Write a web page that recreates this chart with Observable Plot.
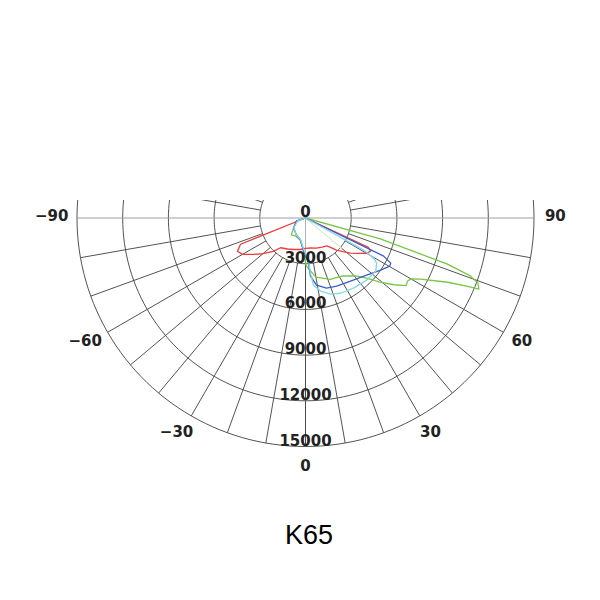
<!DOCTYPE html>
<html><head><meta charset="utf-8">
<script src="https://cdn.jsdelivr.net/npm/d3@7"></script>
<script src="https://cdn.jsdelivr.net/npm/@observablehq/plot@0.6"></script>
<style>
body{margin:0;background:#fff;}
#wrap{position:relative;width:600px;height:600px;}
#title{position:absolute;left:209px;width:200px;top:521px;text-align:center;font-family:"Liberation Sans",Arial,sans-serif;font-size:27px;line-height:28px;color:#000;}
</style></head><body>
<div id="wrap"><div id="chart"></div><div id="title">K65</div></div>
<script>
// ring (intensity) labels, cd
const ringValues = [0, 3000, 6000, 9000, 12000, 15000];
// angle labels, degrees
const angleTicks = [-90, -60, -30, 0, 30, 60, 90];
const angleText = ["\u221290", "\u221260", "\u221230", "0", "30", "60", "90"];

// curves: gamma (deg) and luminous intensity (cd)
const redGamma = [-90, -72, -68, -64, -60, -55, -50, -44, -40, -30, -20, -10, 0, 10, 20, 30, 37, 40, 44, 48, 52, 56, 60, 63, 65, 70, 90];
const redCd    = [0, 0, 4600, 4970, 4780, 4160, 3650, 3050, 2550, 2350, 2200, 2100, 2000, 2000, 2100, 2200, 2300, 2500, 2930, 3300, 3750, 4150, 4630, 4800, 4550, 0, 0];

const greenGamma = [-90, -72, -50, -40, -30, -13, -4, 1, 10, 22, 32, 41, 45.5, 49, 53, 56, 58.3, 60, 62, 65.7, 67.3, 67.7, 69.3, 70.6, 72, 74.4, 80, 90];
const greenCd    = [0, 620, 1030, 1450, 1350, 1500, 2100, 3160, 3940, 4340, 4490, 5040, 5630, 6390, 7280, 7950, 7880, 7990, 8560, 10250, 11770, 12300, 12100, 11500, 9800, 5100, 0, 0];

const blueGamma = [-90, -72, -50, -28, -13, -4, 3.8, 4.9, 9.3, 16.7, 24.5, 35.5, 47, 55.3, 60.3, 62.1, 64, 70, 90];
const blueCd    = [0, 620, 1030, 1265, 1480, 2100, 2970, 3830, 4470, 4810, 4920, 5090, 5490, 6000, 6370, 6330, 5710, 0, 0];

const cyanGamma = [-90, -70, -50, -30, -13, -4, 4, 5.2, 6.8, 11.6, 18.2, 25, 34.4, 44.5, 52.9, 57.6, 59.5, 61.1, 66, 90];
const cyanCd    = [0, 550, 1000, 1250, 1450, 2000, 2770, 3630, 4440, 4900, 5260, 5450, 5580, 5720, 5780, 5530, 5190, 4360, 0, 0];

const paleGamma = [40, 50, 55];
const paleCd    = [0, 3100, 0];

const rad = Math.PI / 180;
const cx = 305, cy = 217.5, rOuter = 228.5, rMax = 15000;
const k = rOuter / rMax;
const W = 600, H = 500, topPx = 200;

const X = (g, I) => I * Math.sin(g * rad);
const Y = (g, I) => I * Math.cos(g * rad);
const series = (gs, vs) => gs.map((g, i) => ({g, I: vs[i]}));

// grid
const ringPts = [];
for (const R of ringValues.slice(1)) for (const g of d3.range(-180, 181, 2)) ringPts.push({R, g});
const spokeAngles = d3.range(-170, 181, 10).filter(a => Math.abs(a) !== 90);
const labelR = 16400;
const tickIdx = angleTicks.map((a, i) => i);

const curveMark = (gs, vs, color, w) => Plot.line(series(gs, vs), {
  x: d => X(d.g, d.I), y: d => Y(d.g, d.I), stroke: color, strokeWidth: w, curve: "linear"
});
const labelStyle = {fontSize: 15, fontWeight: "bold", fill: "#222"};

const chart = Plot.plot({
  width: W, height: H,
  marginTop: topPx, marginBottom: 0, marginLeft: 0, marginRight: 0,
  x: {domain: [-cx / k, (W - cx) / k], axis: null},
  y: {domain: [(topPx - cy) / k, (H - cy) / k], reverse: true, axis: null},
  style: {fontFamily: "DejaVu Sans", background: "white"},
  marks: [
    Plot.line(ringPts, {x: d => X(d.g, d.R), y: d => Y(d.g, d.R), z: "R", stroke: "#404040", strokeWidth: 0.9, clip: "frame"}),
    Plot.ruleX([0], {y1: 0, y2: rMax, stroke: "#b0b0b0", strokeWidth: 1}),
    Plot.link(spokeAngles, {x1: a => X(a, 3000), y1: a => Y(a, 3000), x2: a => X(a, rMax), y2: a => Y(a, rMax), stroke: "#404040", strokeWidth: 0.9, clip: "frame"}),
    Plot.ruleY([0], {x1: -rMax, x2: rMax, stroke: "#a0a0a0", strokeWidth: 1}),
    curveMark(paleGamma, paleCd, "#d6ecc6", 1),
    curveMark(greenGamma, greenCd, "#78c846", 1.3),
    curveMark(redGamma, redCd, "#f03c3c", 1.3),
    curveMark(blueGamma, blueCd, "#3a5ec8", 1.3),
    curveMark(cyanGamma, cyanCd, "#82d8e8", 1.3),
    Plot.text(ringValues, {x: () => 0, y: d => d, text: d => String(d), lineAnchor: "bottom", dy: -1, ...labelStyle}),
    Plot.text(tickIdx.filter(i => angleTicks[i] < 0), {x: i => X(angleTicks[i], labelR), y: i => Y(angleTicks[i], labelR), text: i => angleText[i], dx: -4, dy: -2, ...labelStyle}),
    Plot.text(tickIdx.filter(i => angleTicks[i] >= 0), {x: i => X(angleTicks[i], labelR), y: i => Y(angleTicks[i], labelR), text: i => angleText[i], dy: -2, ...labelStyle})
  ]
});
document.getElementById("chart").appendChild(chart);
</script>
</body></html>
